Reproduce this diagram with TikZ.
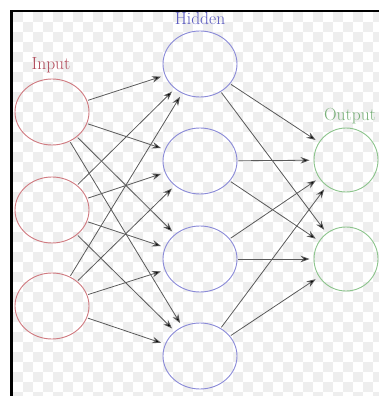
\documentclass[tikz,border=0pt]{standalone}
\usetikzlibrary{shapes.geometric,arrows.meta}
\definecolor{inred}{HTML}{D07A80}
\definecolor{hidblue}{HTML}{8A8AD8}
\definecolor{outgreen}{HTML}{8CC48C}
\definecolor{txtred}{HTML}{B04A5A}
\definecolor{txtblue}{HTML}{5A5AC0}
\definecolor{txtgreen}{HTML}{78B078}
\definecolor{checker}{HTML}{EEEEEE}
\definecolor{edgegrey}{HTML}{5A5A5A}
\tikzset{
  neuron/.style={ellipse, draw, line width=0.9pt, inner sep=0pt, minimum width=74pt, minimum height=66pt},
  inneuron/.style={neuron, draw=inred},
  hidneuron/.style={neuron, draw=hidblue},
  outneuron/.style={neuron, draw=outgreen, minimum width=64pt, minimum height=64pt},
  layerlabel/.style={anchor=base, inner sep=0pt, font=\fontsize{17.5}{20}\selectfont},
  conn/.style={draw=edgegrey, line width=0.8pt, -{Stealth[length=9pt,width=6.5pt,fill=black]}, shorten >=4pt, shorten <=1pt}
}
\begin{document}
\begin{tikzpicture}[x=1pt,y=-1pt]
\useasboundingbox (0,0) rectangle (379,396);
\fill[white] (0,0) rectangle (379,396);
% checker background
\foreach \i in {0,...,36}{
  \foreach \j in {0,...,38}{
    \pgfmathtruncatemacro{\cpar}{mod(\i+\j,2)}
    \ifnum\cpar=0
      \fill[checker] ({13+10*\i},{12+10*\j}) rectangle ({23+10*\i},{22+10*\j});
    \fi
  }
}
% borders
\fill[black] (10,10) rectangle (379,12);
\fill[black] (10,10) rectangle (13,396);
% neurons
\node[inneuron] (I1) at (52,112) {};
\node[inneuron] (I2) at (52,210) {};
\node[inneuron] (I3) at (52,306) {};
\node[hidneuron] (H1) at (200,64) {};
\node[hidneuron] (H2) at (200,161) {};
\node[hidneuron] (H3) at (200,259) {};
\node[hidneuron] (H4) at (200,356) {};
\node[outneuron] (O1) at (346,160) {};
\node[outneuron] (O2) at (346,259) {};
% labels
\node[layerlabel, text=txtred] (Lin) at (51,70) {Input};
\node[layerlabel, text=txtblue] (Lhid) at (200,25) {Hidden};
\node[layerlabel, text=txtgreen] (Lout) at (350,120) {Output};
% connections
\foreach \s in {1,2,3}{
  \foreach \t in {1,2,3,4}{
    \draw[conn] (I\s) -- (H\t);
  }
}
\foreach \s in {1,2,3,4}{
  \foreach \t in {1,2}{
    \draw[conn] (H\s) -- (O\t);
  }
}
\end{tikzpicture}
\end{document}
